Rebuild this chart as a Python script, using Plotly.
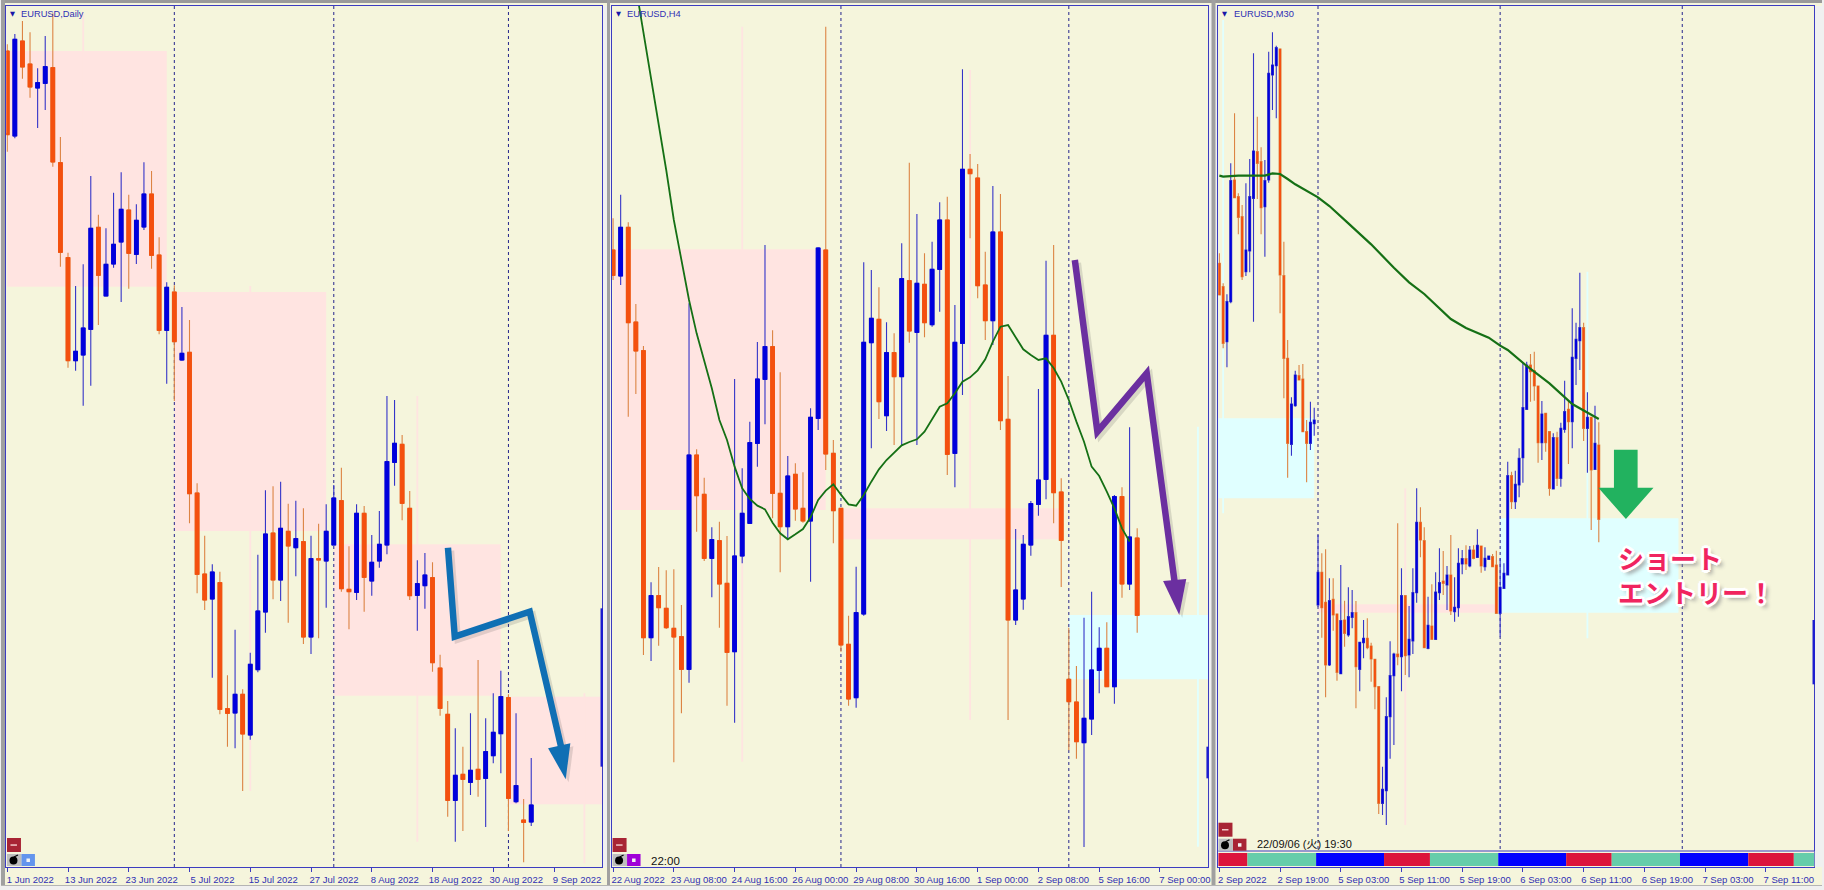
import numpy as np
import plotly.graph_objects as go

W, H = 1824, 890

# B = bull candle (blue), O = bear candle (orange)
daily_dir = "OBOOBBOOOBBBOBBBOBBOOBOBOOOBOOBOBBBOBOBOBOBBOOBOBBBBOOBBOOOBOBOBBBOBOB"
daily_body_top = [153,118,123,192,248,200,203,488,773,1054,
    984,685,682,793,733,628,630,661,582,582,
    765,862,876,1060,1057,1479,1722,1716,1748,2126,
    2083,2083,1993,1833,1602,1599,1585,1594,1616,1625,
    1676,1676,1594,1494,1502,1768,1540,1540,1687,1633,
    1385,1330,1333,1525,1751,1725,1733,2004,2143,2326,
    2323,2311,2308,2255,2197,2090,2093,2357,2460,2415]
daily_body_bot = [404,408,201,261,264,250,486,757,1082,1082,
    1065,988,826,888,792,726,760,763,681,766,
    991,991,1025,1080,1481,1723,1800,1797,2128,2140,
    2139,2202,2205,2009,1836,1740,1740,1638,1643,1911,
    1911,1680,1683,1635,1766,1775,1777,1732,1743,1683,
    1635,1387,1510,1787,1786,1757,1988,2125,2401,2401,
    2338,2347,2338,2335,2267,2201,2395,2405,2467,2466]
daily_wick_top = [133,102,63,97,205,108,40,411,758,858,
    793,528,644,685,578,517,584,613,487,513,
    712,847,856,921,960,1450,1607,1693,1715,2026,
    1889,2068,1958,1664,1471,1459,1445,1511,1502,1525,
    1607,1571,1513,1455,1403,1639,1513,1518,1605,1533,
    1188,1200,1305,1473,1681,1659,1687,1964,2103,2185,
    2240,2140,1980,2155,2080,2012,2083,2140,2397,2274]
daily_wick_bot = [455,415,236,293,384,330,500,800,1103,1112,
    1217,1157,975,888,803,906,866,792,690,806,
    1003,1151,1203,1082,1570,1780,1830,2033,2143,2240,
    2245,2373,2219,2017,1898,1798,1803,1868,1729,1932,
    1962,1915,1823,1635,1775,1888,1800,1835,1787,1703,
    1663,1457,1561,1800,1892,1826,2015,2147,2450,2525,
    2493,2385,2390,2481,2290,2320,2493,2410,2587,2478]
daily_ticks = ["1 Jun 2022","13 Jun 2022","23 Jun 2022","5 Jul 2022","15 Jul 2022",
               "27 Jul 2022","8 Aug 2022","18 Aug 2022","30 Aug 2022","9 Sep 2022"]
daily_breaks = [22, 43, 66]

h4_dir = "OBOOOBOOOOBOOBOOBBBBBOOBOOBBOOOOBBBOBOBOBOBBOBBOOOBOOBBBBBOOOOBBBOBOBO"
h4_body_top = [750,682,682,966,1052,1787,1787,1825,1885,1910,
    1365,1365,1483,1619,1622,1750,1668,1540,1328,1137,
    1040,1040,1480,1428,1423,1525,1252,744,750,1360,
    1525,1933,1838,1027,955,958,1058,1058,836,842,
    850,853,808,660,660,1027,508,508,534,855,
    696,696,1258,1770,1633,1511,1440,1006,1006,1476,
    2038,2106,2155,2010,1945,1945,1490,1490,1611,1614]
h4_body_bot = [826,828,968,1053,1913,1913,1823,1883,1911,2008,
    2008,1487,1675,1675,1752,1957,1955,1668,1570,1330,
    1138,1480,1580,1580,1527,1563,1563,1255,1362,1532,
    1935,2097,2093,1842,1028,1205,1247,1130,1130,993,
    997,968,974,808,1363,1360,1030,521,857,962,
    962,1262,1860,1860,1797,1635,1513,1438,1478,1621,
    2105,2225,2228,2157,2011,2060,2060,1752,1752,1846]
h4_wick_top = [655,584,667,912,1038,1747,1701,1711,1708,1815,
    910,1348,1433,1582,1565,1608,1137,1405,1265,1026,
    735,991,1117,1368,1390,1417,1225,742,80,1320,
    1525,1847,1700,787,810,862,967,1000,730,488,
    642,760,725,607,590,915,208,462,492,755,
    558,582,1128,1587,1605,1503,1167,782,735,1435,
    1883,1998,1853,1775,1882,1867,1485,1462,1282,1585]
h4_wick_bot = [840,855,1250,1182,1965,1983,1937,1887,2287,2140,
    2048,1595,1683,1792,1883,2117,2168,1690,1570,1400,
    1273,1555,1717,1615,1562,1568,1745,1290,1410,1630,
    1955,2117,2123,1847,1345,1257,1293,1335,1335,1028,
    1335,1012,980,935,1425,1462,1185,715,895,1020,
    1035,1290,2160,1875,1829,1667,1547,1498,1570,1761,
    2251,2276,2541,2205,2080,2060,2111,1793,1770,1898]
h4_ticks = ["22 Aug 2022","23 Aug 08:00","24 Aug 16:00","26 Aug 00:00","29 Aug 08:00",
            "30 Aug 16:00","1 Sep 00:00","2 Sep 08:00","5 Sep 16:00","7 Sep 00:00"]
h4_breaks = [30, 60]
h4_ma_bar = list(range(3, 69))
h4_ma = [-40,96,225,365,510,660,780,900,1000,1085,1165,1260,1320,1400,1465,1497,1517,1528,1568,1600,
    1618,1603,1587,1552,1500,1472,1453,1484,1513,1517,1485,1445,1408,1380,1358,1336,1326,1318,1295,1258,
    1220,1210,1180,1145,1132,1111,1078,1025,980,975,1012,1048,1065,1080,1075,1104,1145,1200,1265,1325,
    1400,1428,1475,1525,1585,1625]

m30_dir = ("OOBBOOOBBB" "OOBBBBOOOB" "BOOOBBBOOB" "OOBOBBOBBO" "OOOBBBBOBO"
           "BBBOOBOBBO" "BOBBBOBOBO" "BBOOBBBOBB" "BBOOOBOOBO" "BBOBBBOBOB" "O")
m30_body_top = [790,860,905,542,540,590,650,750,590,453,
    455,485,542,220,195,143,147,827,1075,1212,
    1125,1127,1137,1295,1267,1260,1717,1717,1807,1802,
    1798,1842,1862,1860,1850,1838,1838,1927,1915,1915,
    1938,1978,2060,2368,2150,2027,1962,1962,1787,1787,
    1918,1778,1567,1567,1622,1876,1878,1776,1748,1743,
    1725,1725,1822,1690,1676,1676,1650,1650,1636,1638,
    1675,1668,1670,1695,1762,1720,1427,1427,1453,1375,
    1223,1095,1095,1112,1158,1242,1240,1295,1313,1313,
    1285,1235,1228,1072,1018,983,983,1252,1252,1330,
    1335]
m30_body_bot = [885,1030,1025,905,593,652,830,815,753,595,
    490,623,620,540,225,197,825,1075,1330,1333,
    1217,1140,1295,1330,1330,1271,1815,1823,1995,1995,
    1845,2017,2021,1900,1905,1852,2000,2008,1928,1943,
    1977,2060,2410,2410,2372,2150,2027,1970,1970,1967,
    1965,1923,1778,1620,1943,1945,1918,1918,1778,1750,
    1755,1833,1835,1823,1692,1692,1698,1675,1672,1698,
    1700,1678,1700,1840,1840,1765,1725,1505,1505,1455,
    1373,1228,1115,1158,1328,1328,1328,1465,1467,1435,
    1435,1288,1265,1265,1075,1022,1285,1285,1410,1408,
    1558]
m30_wick_top = [760,850,883,490,340,580,615,550,477,160,
    350,442,480,155,97,137,145,725,1020,1192,
    1112,1095,1092,1260,1205,1223,1605,1660,1648,1735,
    1735,1840,1695,1802,1762,1770,1803,1927,1860,1855,
    1928,1978,2060,2300,2092,1924,1958,1570,1705,1787,
    1818,1705,1465,1522,1582,1790,1753,1717,1645,1653,
    1698,1605,1732,1645,1650,1636,1638,1636,1588,1638,
    1642,1668,1662,1652,1675,1690,1385,1415,1412,1345,
    1090,1085,1062,1055,1158,1203,1240,1295,1300,1295,
    1268,1142,1200,925,968,818,968,1177,1252,1217,
    1267]
m30_wick_bot = [885,1045,1102,910,595,703,840,828,817,965,
    597,703,770,548,330,355,940,1195,1433,1367,
    1220,1140,1295,1447,1350,1307,1820,1913,2092,1998,
    1892,2042,2023,1940,1910,1885,2125,2074,1975,1948,
    2045,2128,2442,2445,2475,2276,2235,1996,2074,2025,
    2032,1962,1808,1672,1943,1948,1918,1920,1800,1785,
    1830,1845,1865,1850,1723,1710,1702,1678,1672,1718,
    1712,1680,1702,1840,1910,1767,1725,1527,1527,1492,
    1448,1228,1205,1202,1388,1380,1355,1487,1467,1458,
    1460,1298,1392,1345,1155,1110,1323,1418,1590,1408,
    1627]
m30_ticks = ["2 Sep 2022","2 Sep 19:00","5 Sep 03:00","5 Sep 11:00","5 Sep 19:00",
             "6 Sep 03:00","6 Sep 11:00","6 Sep 19:00","7 Sep 03:00","7 Sep 11:00"]
m30_breaks = [26, 74, 122]
m30_ma_bar = [0,1,5,12,14,16,18,20,26,29,34,40,46,50,54,61,65,71,74,76,81,87,93,100]
m30_ma = [527,530,527,527,520,522,537,553,592,618,670,733,803,847,882,957,984,1013,1037,1050,1098,1150,1212,1257]

# Higher-timeframe candles ghosted behind each chart:
# first bar, last bar, body top, body bottom, wick bar, wick top, wick bottom, kind
daily_zone_first = [0, 22, 43, 66]
daily_zone_last = [21, 42, 65, 78.4]
daily_zone_top = [153, 876, 1633, 2090]
daily_zone_bot = [860, 1593, 2087, 2413]
daily_zone_wick_bar = [10, 32, 54, 76]
daily_zone_wick_top = [40, 858, 1188, 2080]
daily_zone_wick_bot = [860, 2373, 2525, 2590]
daily_zone_kind = ["down", "down", "down", "down"]

h4_zone_first = [0, 30, 60]
h4_zone_last = [28, 59, 78.4]
h4_zone_top = [748, 1525, 1845]
h4_zone_bot = [1530, 1618, 2038]
h4_zone_wick_bar = [17, 47, 77]
h4_zone_wick_top = [80, 210, 1280]
h4_zone_wick_bot = [2285, 2160, 2540]
h4_zone_kind = ["down", "down", "up"]

m30_zone_first = [-0.3, 26, 74]
m30_zone_last = [25, 73, 121]
m30_zone_top = [1255, 1813, 1555]
m30_zone_bot = [1495, 1838, 1838]
m30_zone_wick_bar = [1, 49, 97]
m30_zone_wick_top = [60, 1465, 815]
m30_zone_wick_bot = [1540, 2475, 1915]
m30_zone_kind = ["up", "down", "up"]

session_edges = [-0.3, 7.4, 25.5, 43.4, 55.5, 73.5, 91.4, 103.4, 121.4, 139.4, 151.4, 156.8]
session_names = ["crimson", "teal", "blue", "crimson", "teal", "blue", "crimson", "teal", "blue", "crimson", "teal"]

# Styles
BEIGE = "#F5F5DC"
BLUE_BODY, BLUE_WICK = "#0000DC", "#3434C8"
ORANGE_BODY, ORANGE_WICK = "#F4500F", "#DC8444"
FRAME = "#3C3CC0"
ZONE = {"down": "#FFE4E1", "up": "#E0FFFF"}
SESSION = {"crimson": "#DC143C", "teal": "#66CDAA", "blue": "#0000FF"}
FONT = "Liberation Sans"


def px_x(v):
    return v / W


def px_y(v):
    return 1 - v / H


fig = go.Figure()
shapes = []
annos = []


def panel(k, direction, body_top, body_bot, wick_top, wick_bot, ticks, step, breaks,
          zones, xrange, dom, body_line, shift, ma=None, ma_width=1.8, break_to=None):
    suffix = "" if k == 1 else str(k)
    xa, ya = "x" + suffix, "y" + suffix
    n = len(direction)
    bars = list(range(n))
    top = -np.array(body_top, float)
    bot = -np.array(body_bot, float)
    hi = -np.array(wick_top, float)
    lo = -np.array(wick_bot, float)
    is_up = np.array([d == "B" for d in direction])
    opn = np.where(is_up, bot, top)
    cls = np.where(is_up, top, bot)
    # wicks first, bodies above them
    fig.add_trace(go.Candlestick(x=bars, open=opn, high=hi, low=lo, close=cls, xaxis=xa, yaxis=ya,
                                 showlegend=False, whiskerwidth=0,
                                 increasing=dict(line=dict(color=BLUE_WICK, width=1.1), fillcolor=BLUE_BODY),
                                 decreasing=dict(line=dict(color=ORANGE_WICK, width=1.1), fillcolor=ORANGE_BODY)))
    fig.add_trace(go.Candlestick(x=bars, open=opn, high=top, low=bot, close=cls, xaxis=xa, yaxis=ya,
                                 showlegend=False, whiskerwidth=0,
                                 increasing=dict(line=dict(color=BLUE_BODY, width=body_line), fillcolor=BLUE_BODY),
                                 decreasing=dict(line=dict(color=ORANGE_BODY, width=body_line), fillcolor=ORANGE_BODY)))
    if ma is not None:
        fig.add_trace(go.Scatter(x=ma[0], y=-np.array(ma[1], float), mode="lines", xaxis=xa, yaxis=ya,
                                 showlegend=False, line=dict(color="#157015", width=ma_width)))
    first, last, ztop, zbot, wbar, wtop, wbot, kind = zones
    for a, b, t, u, kd in zip(first, last, ztop, zbot, kind):
        shapes.append(dict(type="rect", xref=xa, yref=ya, x0=a, x1=b, y0=-t, y1=-u, layer="below",
                           fillcolor=ZONE[kd], line_width=0))
    for a, t, u, kd in zip(wbar, wtop, wbot, kind):
        shapes.append(dict(type="line", xref=xa, yref=ya, x0=a, x1=a, y0=-t, y1=-u, layer="below",
                           line=dict(color=ZONE[kd], width=1.8)))
    for b in breaks:
        shapes.append(dict(type="line", xref=xa, yref=ya, x0=b, x1=b, y0=-18, y1=-(break_to or 2601),
                           layer="below", line=dict(color="#24248C", width=1, dash="dot")))
    axis = dict(domain=[px_x(dom[0]), px_x(dom[1])], range=list(xrange), anchor=ya,
                showgrid=False, zeroline=False, showline=True, mirror=True, linecolor=FRAME, linewidth=1,
                ticks="outside", ticklen=4, tickcolor=FRAME, tickwidth=1,
                tickvals=[i * step for i in range(len(ticks))], ticktext=ticks, tickangle=0,
                tickfont=dict(family=FONT, size=9.5, color="#2F2FB4"),
                ticklabelshift=shift, ticklabelstandoff=0, rangeslider=dict(visible=False))
    yaxis = dict(domain=[px_y(867), px_y(6)], range=[-2601, -18], anchor=xa, showgrid=False, zeroline=False,
                 showline=True, mirror=True, linecolor=FRAME, linewidth=1, showticklabels=False, ticks="",
                 fixedrange=True)
    fig.update_layout({"xaxis" + suffix: axis, "yaxis" + suffix: yaxis})


panel(1, daily_dir, daily_body_top, daily_body_bot, daily_wick_top, daily_wick_bot, daily_ticks, 8, daily_breaks,
      (daily_zone_first, daily_zone_last, daily_zone_top, daily_zone_bot, daily_zone_wick_bar,
       daily_zone_wick_top, daily_zone_wick_bot, daily_zone_kind),
      (-0.1, 78.36), (5.5, 602.3), 1, 23)
panel(2, h4_dir, h4_body_top, h4_body_bot, h4_wick_top, h4_wick_bot, h4_ticks, 8, h4_breaks,
      (h4_zone_first, h4_zone_last, h4_zone_top, h4_zone_bot, h4_zone_wick_bar,
       h4_zone_wick_top, h4_zone_wick_bot, h4_zone_kind),
      (-0.154, 78.35), (611.9, 1209.2), 1, 25, ma=(h4_ma_bar, h4_ma), ma_width=1.8)
panel(3, m30_dir, m30_body_top, m30_body_bot, m30_wick_top, m30_wick_bot, m30_ticks, 16, m30_breaks,
      (m30_zone_first, m30_zone_last, m30_zone_top, m30_zone_bot, m30_zone_wick_bar,
       m30_zone_wick_top, m30_zone_wick_bot, m30_zone_kind),
      (-0.28, 156.8), (1219.3, 1816.3), 0, 23, ma=(m30_ma_bar, m30_ma), ma_width=2.2, break_to=2553)


def prect(x0, x1, y0, y1, color, layer="above", line=None):
    shapes.append(dict(type="rect", xref="paper", yref="paper", x0=px_x(x0), x1=px_x(x1), y0=px_y(y0), y1=px_y(y1),
                       layer=layer, fillcolor=color, line=line or dict(width=0)))


def ppath(points, color=None, width=0, closed=False, layer="above"):
    d = "M" + " L".join(f"{px_x(a):.5f},{px_y(b):.5f}" for a, b in points) + (" Z" if closed else "")
    shapes.append(dict(type="path", xref="paper", yref="paper", path=d, layer=layer,
                       fillcolor=color if closed else "rgba(0,0,0,0)",
                       line=dict(color=color, width=width) if width else dict(width=0)))


# window chrome
for x0, x1 in ((0, 606), (606, 1213), (1213, 1824)):
    prect(x0, x1, 867, 885, BEIGE, layer="below")
    prect(x0, x1, 0, 6, BEIGE, layer="below")
prect(0, 1824, 0, 3, "#9A9A9A", layer="below")
prect(0, 1824, 885, 886, "#B4B4B4", layer="below")
prect(0, 4, 0, 885, "#A0A0A0", layer="below")
prect(607, 610, 0, 885, "#A0A0A0", layer="below")
prect(1212.5, 1216.5, 0, 885, "#A0A0A0", layer="below")

# session strip on the M30 chart
prect(1219.3, 1816.3, 851, 867, BEIGE)
for a, b, nm in zip(session_edges[:-1], session_edges[1:], session_names):
    shapes.append(dict(type="rect", xref="x3", yref="paper", x0=a, x1=b, y0=px_y(866), y1=px_y(853),
                       fillcolor=SESSION[nm], line_width=0, layer="above"))
shapes.append(dict(type="line", xref="paper", yref="paper", x0=px_x(1219.3), x1=px_x(1816.3), y0=px_y(851), y1=px_y(851),
                   line=dict(color=FRAME, width=1.2), layer="above"))

# last-price stubs at each chart's right edge
for ax, ya, t, u in (("x", "y", 1825, 2300), ("x2", "y2", 2240, 2335), ("x3", "y3", 1860, 2053)):
    shapes.append(dict(type="line", xref=ax + " domain", yref=ya, x0=0.999, x1=0.999, y0=-t, y1=-u,
                       line=dict(color="#1C1CD0", width=2.4), layer="above"))

# drawn arrows
blue_arrow = [(447.7, 547.7), (454.5, 636.7), (529.6, 611.7), (561, 746.7)]
blue_head = [(548, 748.3), (570.3, 743.3), (565.6, 779.3)]
purple_arrow = [(1075.6, 260), (1098.2, 431.7), (1147.6, 373.3), (1175.5, 581.7)]
purple_head = [(1164, 581), (1187.2, 579), (1180.2, 615)]
green_arrow = [(1615.6, 449.7), (1639.3, 449.7), (1639.3, 487.7), (1655.2, 487.7),
               (1627.6, 519), (1600, 487.7), (1615.6, 487.7)]
for line_pts, head_pts, color in ((blue_arrow, blue_head, "#0F6FB4"), (purple_arrow, purple_head, "#6B2FA0")):
    ppath([(a + 3, b + 3) for a, b in line_pts], "rgba(70,70,70,0.16)", 6.5)
    ppath([(a + 3, b + 3) for a, b in head_pts], "rgba(70,70,70,0.16)", closed=True)
    ppath(line_pts, color, 6.5)
    ppath(head_pts, color, closed=True)
ppath(green_arrow, "#22B25F", closed=True)


# terminal buttons
def buttons(x, y, color):
    prect(x, x + 14, y, y + 14, "#A82434")
    prect(x + 3.5, x + 10, y + 6.3, y + 7.8, "#F2C8C8")
    prect(x, x + 14.5, y + 16, y + 28, "#BEBEBE")
    shapes.append(dict(type="circle", xref="paper", yref="paper", x0=px_x(x + 2.5), x1=px_x(x + 10.5),
                       y0=px_y(y + 26.5), y1=px_y(y + 18.5), fillcolor="#000000", line_width=0))
    ppath([(x + 7, y + 19), (x + 11, y + 17)], "#000000", 1.2)
    prect(x + 14.5, x + 28, y + 16, y + 28, color)
    prect(x + 19.5, x + 23, y + 20.5, y + 24, "#F4F4F4")


buttons(6, 838, "#6495ED")
buttons(612.6, 838, "#A000D8")
buttons(1219.5, 822.7, "#A82434")


def text(x, y, s, size, color, family=FONT, anchor="left", **font):
    annos.append(dict(xref="paper", yref="paper", x=px_x(x), y=px_y(y), text=s, showarrow=False, xanchor=anchor,
                      yanchor="middle", align="left", borderpad=0,
                      font=dict(family=family, size=size, color=color, **font)))


text(19.5, 14, "EURUSD,Daily", 9.3, "#2F2FB4")
text(626.5, 14, "EURUSD,H4", 9.3, "#2F2FB4")
text(1234, 14, "EURUSD,M30", 9.3, "#2F2FB4")
for x in (8.5, 615, 1222):
    text(x, 14, "▼", 6.5, "#1818A8", family="DejaVu Sans")
text(650, 861, "22:00", 11.5, "#111111")
text(1257.5, 844, "22/09/06 (火) 19:30", 11, "#111111", family="Liberation Sans, Noto Sans CJK JP")

outline = ",".join(f"{a}px {b}px 0 #FFFFFF" for a, b in
                   ((-3, 0), (3, 0), (0, -3), (0, 3), (-2, -2), (2, -2), (-2, 2), (2, 2))) + ",4px 4px 4px #909090"
text(1619, 574.5, "<b>ショート<br>エントリー！</b>", 26, "#F0245F", family="Noto Sans CJK JP", shadow=outline)

fig.update_layout(width=W, height=H, margin=dict(l=0, r=0, t=0, b=0), paper_bgcolor="#F0F0F0", plot_bgcolor=BEIGE,
                  showlegend=False, boxmode="overlay", shapes=shapes, annotations=annos, hovermode=False)

fig.write_html("out.html", config={"displayModeBar": False},
               post_script="document.body.style.margin='0';document.body.style.overflow='hidden';")
